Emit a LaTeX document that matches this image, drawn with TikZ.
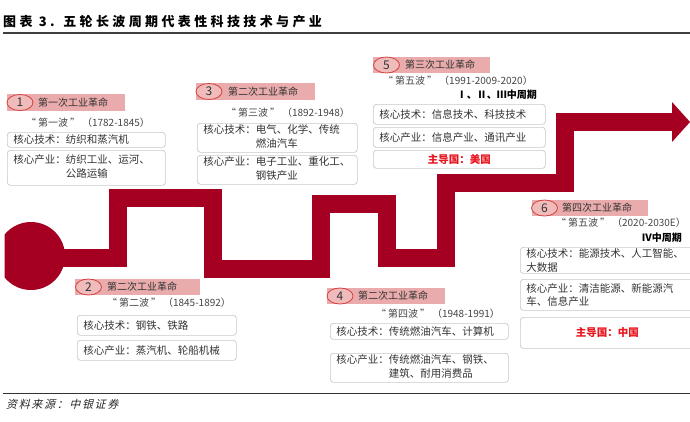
\documentclass[tikz,border=0pt]{standalone}
\usepackage{fontspec}
\setmainfont{Noto Sans CJK SC}
\newfontfamily\cjkit[FakeSlant=0.25,LetterSpace=15]{Noto Sans CJK SC}
\newfontfamily\cjktitle[LetterSpace=26]{Noto Sans CJK SC}
\usetikzlibrary{shapes.geometric}
\definecolor{bandred}{HTML}{A50021}
\definecolor{pinkbar}{HTML}{E9ABAB}
\definecolor{ellfill}{HTML}{EFBBBB}
\definecolor{ellline}{HTML}{D8403F}
\definecolor{boxline}{HTML}{C8C8C8}
\definecolor{txt}{HTML}{333333}
\definecolor{wavegray}{HTML}{454545}
\definecolor{leadred}{HTML}{E8141E}
\newcommand\twol[2]{\begin{tabular}[t]{@{}l@{}}#1\\#2\end{tabular}}
\newcommand\wq[1]{\hspace{2pt}“\hspace{2pt}#1\hspace{2pt}”\hspace{2pt}}
\tikzset{
  bar/.style={rectangle, fill=pinkbar, draw=none, inner sep=0pt},
  numell/.style={ellipse, draw=ellline, fill=ellfill, line width=0.8pt, minimum width=26pt, minimum height=16pt, inner sep=0pt, text=txt, font=\fontsize{12}{12}\selectfont},
  lbl/.style={anchor=west, inner sep=0pt, text=txt, font=\fontsize{10}{12}\selectfont},
  wave/.style={inner sep=0pt, text=wavegray, font=\fontsize{10}{12}\selectfont},
  cyc/.style={anchor=east, inner sep=0pt, text=black, font=\fontsize{10}{12}\selectfont\bfseries},
  infobox/.style={rectangle, draw=boxline, rounded corners=3pt, line width=0.7pt, anchor=north west, inner xsep=6pt, inner ysep=1pt, align=left, text=txt, font=\fontsize{10.5}{13.5}\selectfont},
  leadbox/.style={infobox, align=center, text=leadred, font=\fontsize{10.5}{13}\selectfont\bfseries},
}
\begin{document}
\begin{tikzpicture}[x=1pt,y=-1pt]
\useasboundingbox (0,0) rectangle (690,421);
% title and rules
\node[anchor=west, inner sep=0pt, text=black, font=\cjktitle\fontsize{13}{15}\selectfont\bfseries] (title) at (3,22) {图表 3. 五轮长波周期代表性科技技术与产业};
\draw[line width=1.6pt, color=black!75] (3,33) -- (690,33);
\draw[line width=1pt, color=black!80] (3,393) -- (690,393);
\node[anchor=west, inner sep=0pt, text=black!85, font=\cjkit\fontsize{11}{13}\selectfont] (source) at (6,404) {资料来源：中银证券};

% band
\begin{scope}
\clip (4.5,200) rectangle (120,320);
\fill[bandred] (31,256) circle (34);
\end{scope}
\draw[bandred, line width=18pt, line join=miter] (31,258) -- (118,258) -- (118,198) -- (213,198) -- (213,269) -- (321,269) -- (321,204) -- (387,204) -- (387,258) -- (446,258) -- (446,183) -- (565,183) -- (565,122) -- (673,122);
\fill[bandred] (672,102) -- (690,122) -- (672,142) -- cycle;

% group 1
\node[bar, minimum width=118pt, minimum height=17pt] (bar1) at (66,102.5) {};
\node[numell] (n1) at (20,102.5) {1};
\node[lbl] (l1) at (38,102.5) {第一次工业革命};
\node[wave] (w1) at (87,123) {\wq{第一波}（1782-1845）};
\node[infobox, text width=146pt, minimum height=15pt] (a1) at (7,132) {核心技术：纺织和蒸汽机};
\node[infobox, text width=146pt, minimum height=35pt] (b1) at (7,150) {核心产业：\twol{纺织工业、运河、}{公路运输}};

% group 2
\node[bar, minimum width=125pt, minimum height=16pt] (bar2) at (137.5,287) {};
\node[numell] (n2) at (88.5,287) {2};
\node[lbl] (l2) at (107,287) {第二次工业革命};
\node[wave] (w2) at (168,303) {\wq{第二波}（1845-1892）};
\node[infobox, text width=147pt, minimum height=20pt] (a2) at (77,315) {核心技术：钢铁、铁路};
\node[infobox, text width=147pt, minimum height=20pt] (b2) at (77,340) {核心产业：蒸汽机、轮船机械};

% group 3
\node[bar, minimum width=119pt, minimum height=17pt] (bar3) at (255.5,91.5) {};
\node[numell] (n3) at (209,91.5) {3};
\node[lbl] (l3) at (228,91.5) {第二次工业革命};
\node[wave] (w3) at (287,113) {\wq{第三波}（1892-1948）};
\node[infobox, text width=148pt, minimum height=29pt] (a3) at (197,123) {核心技术：\twol{电气、化学、传统}{燃油汽车}};
\node[infobox, text width=148pt, minimum height=28pt] (b3) at (197,155) {核心产业：\twol{电子工业、重化工、}{钢铁产业}};

% group 4
\node[bar, minimum width=118pt, minimum height=16pt] (bar4) at (386,296) {};
\node[numell] (n4) at (340,296) {4};
\node[lbl] (l4) at (358,296) {第二次工业革命};
\node[wave] (w4) at (437,314) {\wq{第四波}（1948-1991）};
\node[infobox, text width=166pt, minimum height=16pt] (a4) at (330,323) {核心技术：传统燃油汽车、计算机};
\node[infobox, text width=166pt, minimum height=29pt] (b4) at (330,353) {核心产业：\twol{传统燃油汽车、钢铁、}{建筑、耐用消费品}};

% group 5
\node[bar, minimum width=117pt, minimum height=16pt] (bar5) at (431.5,65) {};
\node[numell] (n5) at (386.5,65) {5};
\node[lbl] (l5) at (405,65) {第三次工业革命};
\node[wave] (w5) at (457,81) {\wq{第五波}（1991-2009-2020）};
\node[cyc] (m5) at (537,95) {Ⅰ、Ⅱ、Ⅲ中周期};
\node[infobox, text width=160pt, minimum height=20pt] (a5) at (373,104) {核心技术：信息技术、科技技术};
\node[infobox, text width=160pt, minimum height=20pt] (b5) at (373,127) {核心产业：信息产业、通讯产业};
\node[leadbox, text width=160pt, minimum height=18pt] (c5) at (373,150) {主导国：美国};

% group 6
\node[bar, minimum width=116pt, minimum height=16pt] (bar6) at (590,208) {};
\node[numell] (n6) at (544.5,208) {6};
\node[lbl] (l6) at (562,208) {第四次工业革命};
\node[wave] (w6) at (620,223) {\wq{第五波}（2020-2030E）};
\node[cyc] (m6) at (682,238) {Ⅳ中周期};
\node[infobox, text width=162pt, minimum height=26pt] (a6) at (520,247) {核心技术：能源技术、人工智能、\\大数据};
\node[infobox, text width=162pt, minimum height=31pt] (b6) at (520,279) {核心产业：清洁能源、新能源汽\\车、信息产业};
\node[leadbox, text width=162pt, minimum height=31pt] (c6) at (520,317) {主导国：中国};
\end{tikzpicture}
\end{document}
